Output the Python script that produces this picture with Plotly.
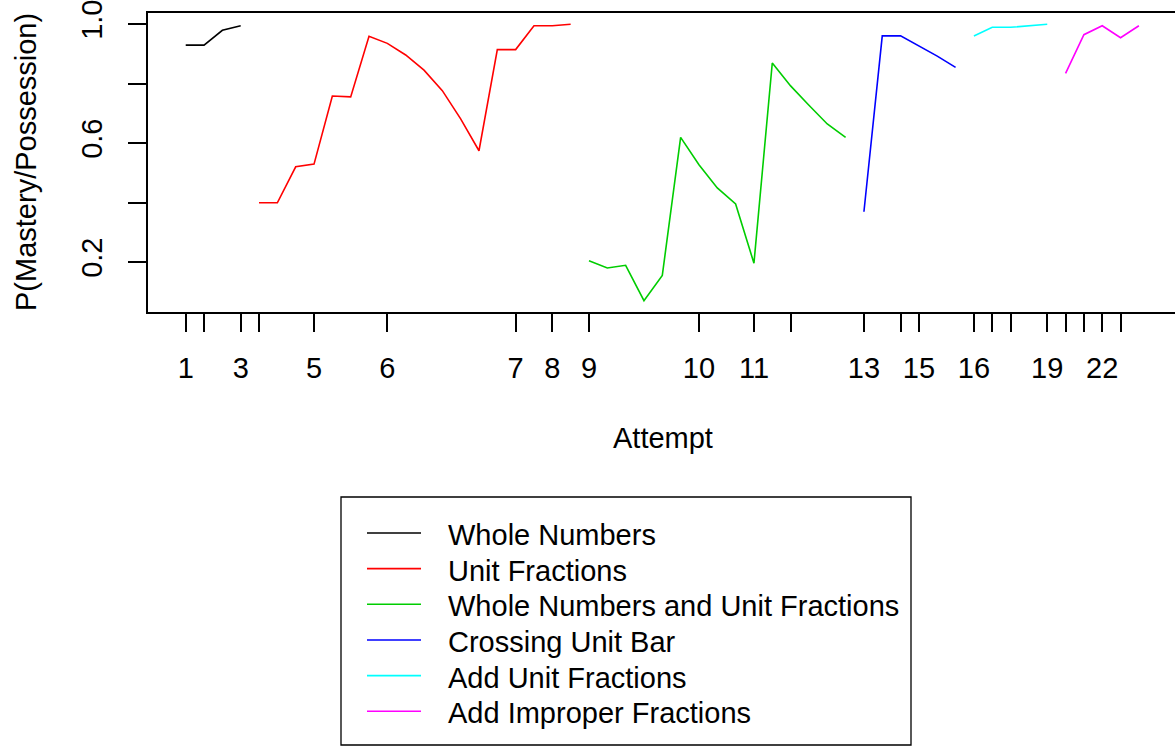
import plotly.graph_objects as go

# ---- data ----
series_names = ["Whole Numbers", "Unit Fractions", "Whole Numbers and Unit Fractions",
                "Crossing Unit Bar", "Add Unit Fractions", "Add Improper Fractions"]
series_colors = ["#000000", "#FF0000", "#00CD00", "#0000FF", "#00FFFF", "#FF00FF"]
series_start = [1, 5, 23, 38, 44, 49]  # observation index of first point

whole_numbers = [0.929, 0.929, 0.979, 0.994]
unit_fractions = [0.399, 0.399, 0.520, 0.529, 0.758, 0.755, 0.959, 0.935, 0.896,
                  0.845, 0.776, 0.681, 0.574, 0.914, 0.914, 0.994, 0.994, 0.999]
whole_and_unit = [0.204, 0.180, 0.189, 0.070, 0.155, 0.619, 0.527, 0.449, 0.395,
                  0.196, 0.869, 0.792, 0.727, 0.664, 0.619]
crossing_unit_bar = [0.369, 0.960, 0.960, 0.927, 0.892, 0.854]
add_unit_fractions = [0.960, 0.989, 0.989, 0.993, 0.999]
add_improper_fractions = [0.834, 0.964, 0.994, 0.954, 0.994]
series_values = [whole_numbers, unit_fractions, whole_and_unit,
                 crossing_unit_bar, add_unit_fractions, add_improper_fractions]

attempt_obs = [1, 2, 4, 5, 8, 12, 19, 21, 23, 29, 32, 34, 38, 40, 41, 44, 45, 46, 48, 49, 50, 51, 52]
attempt_labels = [str(i) for i in range(1, 24)]
attempt_shown = ["1", "3", "5", "6", "7", "8", "9", "10", "11", "13", "15", "16", "19", "22"]

y_ticks = [0.2, 0.4, 0.6, 0.8, 1.0]
y_tick_text = ["0.2", "", "0.6", "", "1.0"]

# ---- layout geometry ----
W, H = 1175, 747
ML, MR, MT, MB = 148, 0, 13, 435
PW = W - ML - MR
PH = H - MT - MB

def px(xp):
    return (xp - ML) / PW

def py(yp):
    return (H - MB - yp) / PH

FONT = "Liberation Sans, Arial, Helvetica, sans-serif"
FS = 29

fig = go.Figure()
for name, col, start, vals in zip(series_names, series_colors, series_start, series_values):
    fig.add_trace(go.Scatter(
        x=list(range(start, start + len(vals))), y=vals, mode="lines",
        name=name, line=dict(color=col, width=1.6), showlegend=False,
        hoverinfo="x+y+name"))

fig.update_layout(
    width=W, height=H, autosize=False,
    margin=dict(l=ML, r=MR, t=MT, b=MB, pad=0),
    paper_bgcolor="white", plot_bgcolor="white",
    font=dict(family=FONT, size=FS, color="black"),
    showlegend=False,
)
fig.update_xaxes(
    range=[-1.057, 54.97], tickmode="array", tickvals=attempt_obs,
    ticktext=[lab if lab in attempt_shown else "" for lab in attempt_labels],
    ticks="outside", ticklen=18, tickwidth=1.5, tickcolor="black",
    showline=True, linecolor="black", linewidth=1.5, mirror=True,
    showgrid=False, zeroline=False, tickfont=dict(size=FS, family=FONT),
    ticklabelstandoff=11, ticklabeloverflow="allow",
)
fig.update_yaxes(
    range=[0.032, 1.037], tickmode="array", tickvals=y_ticks, ticktext=y_tick_text,
    tickangle=-90, ticks="outside", ticklen=18, tickwidth=1.5, tickcolor="black",
    showline=True, linecolor="black", linewidth=1.5, mirror=False,
    showgrid=False, zeroline=False, tickfont=dict(size=FS, family=FONT),
    ticklabelstandoff=15, ticklabeloverflow="allow",
)

ann = []
ann.append(dict(text="Attempt", x=px(663), y=py(438), xref="paper", yref="paper",
                xanchor="center", yanchor="middle", showarrow=False,
                font=dict(size=FS, family=FONT)))
ann.append(dict(text="P(Mastery/Possession)", x=px(26), y=py(162), xref="paper", yref="paper",
                xanchor="center", yanchor="middle", showarrow=False, textangle=-90,
                font=dict(size=FS, family=FONT)))

shapes = []
# custom legend box
shapes.append(dict(type="rect", xref="paper", yref="paper",
                   x0=px(341), x1=px(911), y0=py(745), y1=py(497),
                   line=dict(color="black", width=1.3), fillcolor="white"))
row0, row_step = 533, 35.66
for i, (name, col) in enumerate(zip(series_names, series_colors)):
    yy = row0 + i * row_step
    shapes.append(dict(type="line", xref="paper", yref="paper",
                       x0=px(367), x1=px(421), y0=py(yy), y1=py(yy),
                       line=dict(color=col, width=1.6)))
    ann.append(dict(text=name, x=px(446), y=py(yy + 2), xref="paper", yref="paper",
                    xanchor="left", yanchor="middle", showarrow=False,
                    font=dict(size=FS, family=FONT)))

fig.update_layout(annotations=ann, shapes=shapes)
fig.write_html("out.html", config={"displayModeBar": False},
               post_script="document.body.style.margin='0';document.body.style.overflow='hidden';")
